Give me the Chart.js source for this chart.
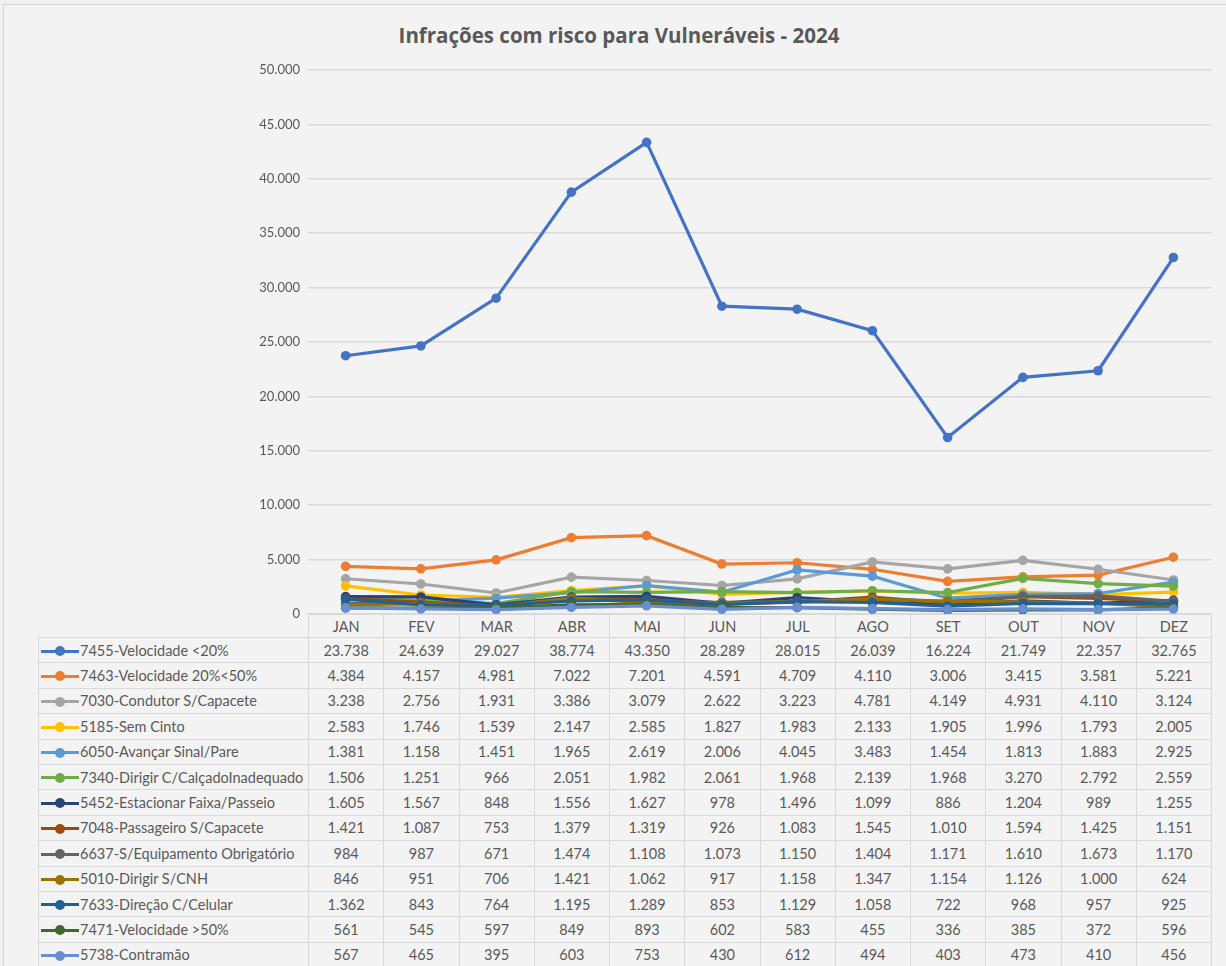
<!DOCTYPE html>
<html lang="pt-BR">
<head>
<meta charset="utf-8">
<title>Infrações com risco para Vulneráveis - 2024</title>
<script src="https://cdn.jsdelivr.net/npm/chart.js@4.4.1/dist/chart.umd.min.js"></script>
<style>
  html, body {
    margin: 0;
    padding: 0;
    background: #f0f0f0;
    width: 1226px;
    height: 966px;
    overflow: hidden;
    font-family: Lato, "Liberation Sans", sans-serif;
  }
  #frame {
    position: absolute;
    left: 3px;
    top: 4px;
    width: 1240px;
    height: 980px;
    background: #f3f3f3;
    border: 1px solid #d6d6d6;
  }
  #title {
    position: absolute;
    left: 0;
    width: 1238px;
    top: 21px;
    line-height: 28px;
    text-align: center;
    font-family: "Open Sans", Lato, sans-serif;
    font-size: 20.5px;
    font-weight: bold;
    color: #595959;
  }
  #wrap {
    position: absolute;
    left: 0;
    top: 0;
    width: 1226px;
    height: 966px;
    z-index: 2;
  }
  #dataTable {
    position: absolute;
    border-collapse: collapse;
    table-layout: fixed;
    z-index: 1;
    font-size: 14.5px;
    color: #595959;
  }
  #dataTable td {
    border: 1px solid #d9d9d9;
    padding: 0;
    text-align: center;
    white-space: nowrap;
    overflow: hidden;
  }
  #dataTable td.lbl {
    text-align: left;
    padding-left: 2px;
  }
  #dataTable td.blank {
    border: none;
  }
  .key {
    display: inline-block;
    position: relative;
    width: 38px;
    height: 3px;
    vertical-align: middle;
    margin-right: 1px;
    top: -1px;
  }
  .key i {
    position: absolute;
    left: 14px;
    top: -3.5px;
    width: 10px;
    height: 10px;
    border-radius: 50%;
  }
</style>
</head>
<body>
<div id="frame"></div>
<div id="title">Infrações com risco para Vulneráveis - 2024</div>
<table id="dataTable"></table>
<div id="wrap"><canvas id="lineChart"></canvas></div>

<script>
/* ================================
   Data
================================ */
const months = ["JAN", "FEV", "MAR", "ABR", "MAI", "JUN", "JUL", "AGO", "SET", "OUT", "NOV", "DEZ"];

const seriesNames = [
  "7455-Velocidade <20%",
  "7463-Velocidade 20%<50%",
  "7030-Condutor S/Capacete",
  "5185-Sem Cinto",
  "6050-Avançar Sinal/Pare",
  "7340-Dirigir C/CalçadoInadequado",
  "5452-Estacionar Faixa/Passeio",
  "7048-Passageiro S/Capacete",
  "6637-S/Equipamento Obrigatório",
  "5010-Dirigir S/CNH",
  "7633-Direção C/Celular",
  "7471-Velocidade >50%",
  "5738-Contramão"
];

const v7455 = [23738, 24639, 29027, 38774, 43350, 28289, 28015, 26039, 16224, 21749, 22357, 32765];
const v7463 = [4384, 4157, 4981, 7022, 7201, 4591, 4709, 4110, 3006, 3415, 3581, 5221];
const v7030 = [3238, 2756, 1931, 3386, 3079, 2622, 3223, 4781, 4149, 4931, 4110, 3124];
const v5185 = [2583, 1746, 1539, 2147, 2585, 1827, 1983, 2133, 1905, 1996, 1793, 2005];
const v6050 = [1381, 1158, 1451, 1965, 2619, 2006, 4045, 3483, 1454, 1813, 1883, 2925];
const v7340 = [1506, 1251, 966, 2051, 1982, 2061, 1968, 2139, 1968, 3270, 2792, 2559];
const v5452 = [1605, 1567, 848, 1556, 1627, 978, 1496, 1099, 886, 1204, 989, 1255];
const v7048 = [1421, 1087, 753, 1379, 1319, 926, 1083, 1545, 1010, 1594, 1425, 1151];
const v6637 = [984, 987, 671, 1474, 1108, 1073, 1150, 1404, 1171, 1610, 1673, 1170];
const v5010 = [846, 951, 706, 1421, 1062, 917, 1158, 1347, 1154, 1126, 1000, 624];
const v7633 = [1362, 843, 764, 1195, 1289, 853, 1129, 1058, 722, 968, 957, 925];
const v7471 = [561, 545, 597, 849, 893, 602, 583, 455, 336, 385, 372, 596];
const v5738 = [567, 465, 395, 603, 753, 430, 612, 494, 403, 473, 410, 456];

const seriesValues = [v7455, v7463, v7030, v5185, v6050, v7340, v5452, v7048, v6637, v5010, v7633, v7471, v5738];

const seriesColors = [
  "#4472C4", "#ED7D31", "#A5A5A5", "#FFC000", "#5B9BD5", "#70AD47",
  "#264478", "#9E480E", "#636363", "#997300", "#255E91", "#43682B", "#698ED0"
];

/* ================================
   Helpers
================================ */
// pt-BR style thousands separator
function fmt(n) {
  return String(n).replace(/\B(?=(\d{3})+(?!\d))/g, ".");
}

/* ================================
   Chart
================================ */
const datasets = seriesNames.map((name, i) => ({
  label: name,
  data: seriesValues[i],
  borderColor: seriesColors[i],
  backgroundColor: seriesColors[i],
  borderWidth: 3.2,
  pointRadius: 4.8,
  pointBorderWidth: 0,
  tension: 0,
  // Excel paints later series on top
  order: seriesNames.length - i
}));

const chart = new Chart(document.getElementById("lineChart"), {
  type: "line",
  data: { labels: months, datasets },
  options: {
    responsive: true,
    maintainAspectRatio: false,
    animation: false,
    layout: {
      padding: { left: 238, right: 15, top: 70, bottom: 352 }
    },
    plugins: {
      legend: { display: false },
      tooltip: { enabled: false }
    },
    scales: {
      x: {
        display: false,
        offset: true
      },
      y: {
        min: 0,
        max: 50000,
        afterFit: scale => { scale.width = 70; },
        border: { display: false },
        grid: { color: "#d9d9d9", lineWidth: 1.5, drawTicks: false },
        ticks: {
          stepSize: 5000,
          padding: 8,
          color: "#595959",
          font: { family: "Lato", size: 13 },
          callback: v => fmt(v)
        }
      }
    }
  }
});

/* ================================
   Data table under the plot
================================ */
function buildTable() {
  const area = chart.chartArea;
  const colW = (area.right - area.left) / months.length;
  const lblLeft = 38;
  const table = document.getElementById("dataTable");
  table.style.left = lblLeft + "px";
  table.style.top = Math.round(area.bottom) + "px";

  let html = "<colgroup><col style='width:" + (area.left - lblLeft) + "px'>";
  months.forEach(() => { html += "<col style='width:" + colW + "px'>"; });
  html += "</colgroup>";

  html += "<tr style='height:23px'><td class='blank'></td>";
  months.forEach(m => { html += "<td>" + m + "</td>"; });
  html += "</tr>";

  seriesNames.forEach((name, i) => {
    html += "<tr style='height:25.4px'><td class='lbl'>" +
      "<span class='key' style='background:" + seriesColors[i] + "'><i style='background:" + seriesColors[i] + "'></i></span>" +
      name.replace(/</g, "&lt;").replace(/>/g, "&gt;") + "</td>";
    seriesValues[i].forEach(v => { html += "<td>" + fmt(v) + "</td>"; });
    html += "</tr>";
  });

  table.innerHTML = html;
  table.style.width = (area.right - lblLeft) + "px";
}

buildTable();
</script>
</body>
</html>
